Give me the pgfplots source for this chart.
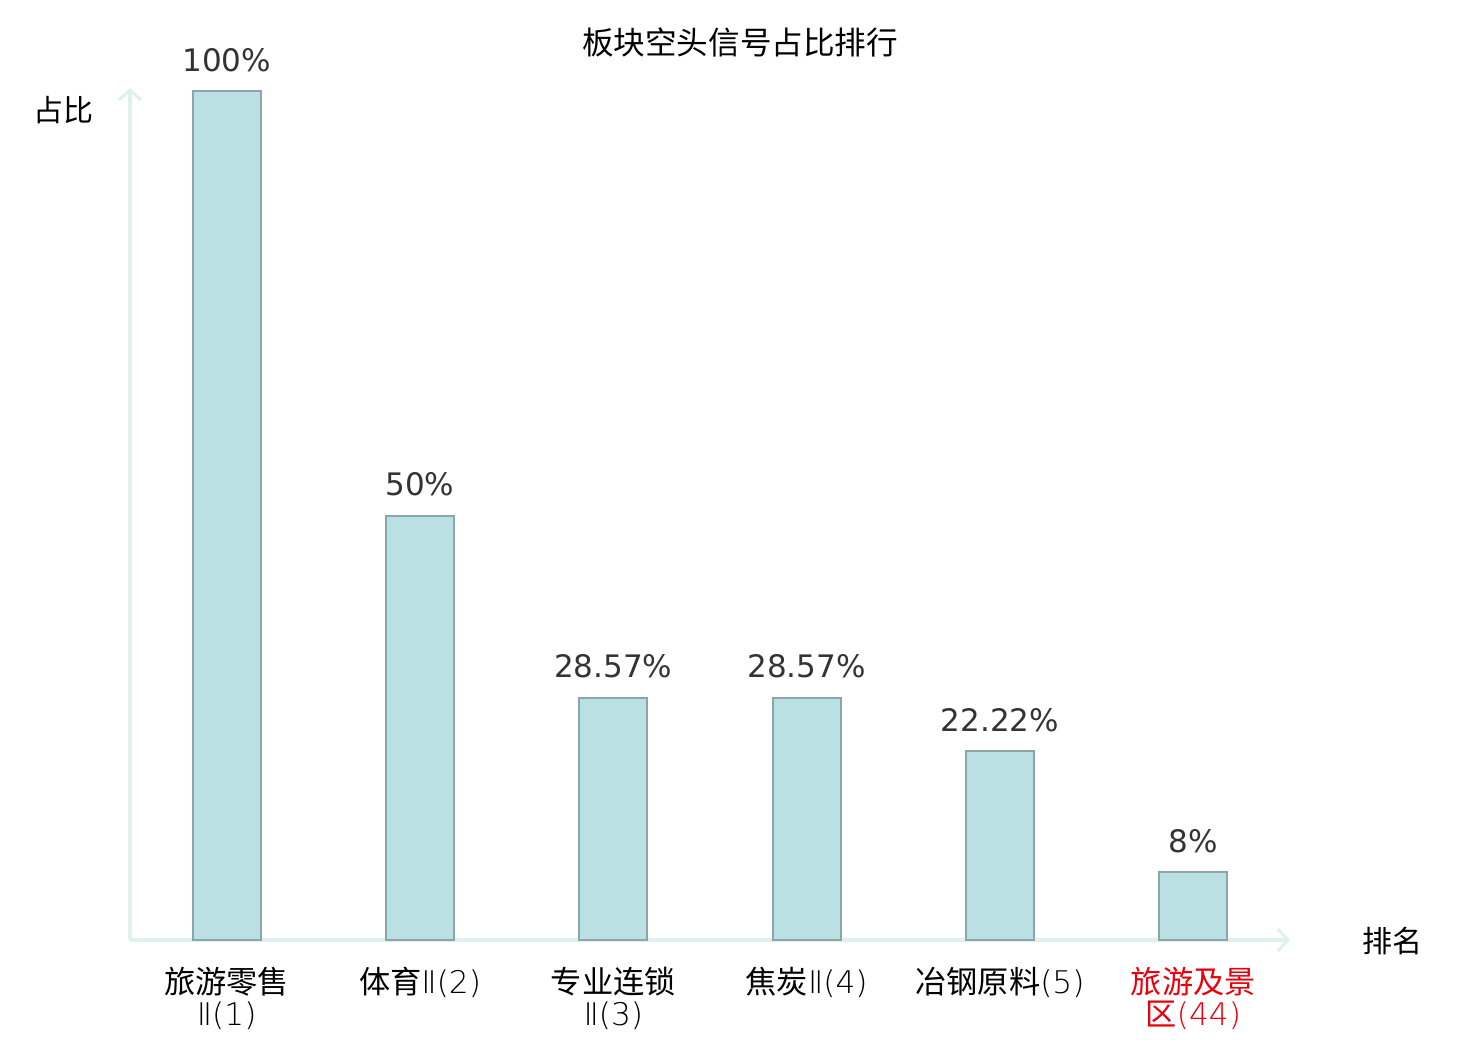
\documentclass[border=0pt]{standalone}
\usepackage{pgfplots}
\pgfplotsset{compat=1.18}
\usepackage{fontspec}
\setmainfont{DejaVu Sans}
\newfontfamily\cjk{Noto Sans CJK SC}
\newfontfamily\thin{DejaVu Sans ExtraLight}
\usetikzlibrary{arrows.meta}
\definecolor{barfill}{HTML}{BBE0E3}
\definecolor{baredge}{HTML}{8AA6A8}
\definecolor{axcol}{HTML}{DDF2EF}
\definecolor{valcol}{HTML}{333333}
\definecolor{redlab}{HTML}{E8000B}
\begin{document}
\begin{tikzpicture}
\path[use as bounding box] (0,0) rectangle (740pt,520pt);
\begin{axis}[
  at={(65pt,50pt)}, anchor=south west,
  scale only axis, width=580pt, height=426pt,
  xmin=-0.5, xmax=5.5, ymin=0, ymax=100.4,
  axis x line=bottom, axis y line=left,
  axis line style={draw=axcol, line width=1.8pt, -{Straight Barb[length=5pt,width=11pt,line width=1.5pt]}},
  ytick=\empty,
  xtick={0,1,2,3,4,5},
  xticklabels={
    {\cjk 旅游零售\\\thin Ⅱ(1)},
    {\cjk 体育{\thin Ⅱ(2)}},
    {\cjk 专业连锁\\\thin Ⅱ(3)},
    {\cjk 焦炭{\thin Ⅱ(4)}},
    {\cjk 冶钢原料{\thin (5)}},
    {\color{redlab}\cjk 旅游及景\\\color{redlab}\cjk 区{\thin (44)}}},
  xticklabel style={align=center, font=\fontsize{15.6pt}{16pt}\selectfont, text=black, yshift=-10pt},
  major tick length=0pt,
  tick style={draw=none},
  ybar, bar width=34pt,
  /pgf/number format/assume math mode=true,
  nodes near coords={\pgfmathprintnumber[fixed,precision=2,assume math mode=true]{\pgfplotspointmeta}\%},
  nodes near coords style={font=\fontsize{15.5pt}{15.5pt}\selectfont, text=valcol, yshift=6pt},
  clip=false,
]
\addplot[fill=barfill, draw=baredge, line width=1pt] coordinates {
  (0,100) (1,50) (2,28.57) (3,28.57) (4,22.22) (5,8)};
\end{axis}
\node[font=\cjk\fontsize{15.8pt}{16pt}\selectfont] at (370pt,499pt) {板块空头信号占比排行};
\node[font=\cjk\fontsize{15pt}{16pt}\selectfont] at (31.5pt,465pt) {占比};
\node[font=\cjk\fontsize{15pt}{16pt}\selectfont] at (696pt,49.5pt) {排名};
\end{tikzpicture}
\end{document}
